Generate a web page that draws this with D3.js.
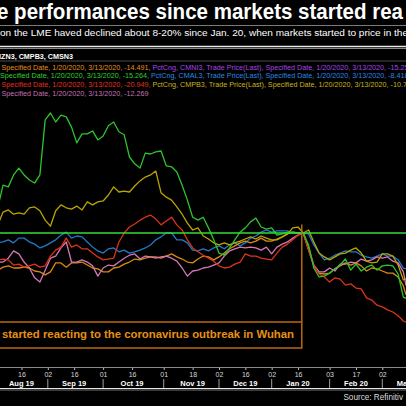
<!DOCTYPE html>
<html><head><meta charset="utf-8">
<script src="https://cdn.jsdelivr.net/npm/d3@7/dist/d3.min.js"></script>
<style>html,body{margin:0;padding:0;background:#000;overflow:hidden}</style>
</head><body>
<script>
// ---- data (percent change vs 20 Jan 2020, sampled every 2nd LME trading day from 1 Aug 2019) ----
const tradeIdx = d3.range(0, 157, 2).concat([157]);
const seriesNames = ["Blue", "Orange", "Pink", "Yellow", "Red", "Green"];
const blueVals = [-2.3,-2.3,-2.1,-1.6,-2.3,-1.2,-1.2,-2.1,-2.6,-3.5,-3.0,-2.3,-1.6,-0.5,0.2,-1.2,-0.7,-0.9,-2.1,-3.3,-4.2,-4.7,-3.7,-3.5,-4.4,-4.0,-4.7,-4.4,-4.0,-3.5,-2.8,-1.6,-0.9,0,0,-1.6,-1.6,-2.3,-4.0,-4.2,-3.7,-4.2,-3.5,-3.0,-3.7,-2.8,-2.3,-3.0,-2.3,-1.2,-0.7,0.2,0.7,0.2,0.5,0.5,0.5,0,0,0,-0.2,-2.8,-4.7,-6.3,-5.9,-5.2,-4.7,-4.2,-4.4,-4.4,-5.2,-5.6,-5.9,-5.4,-4.9,-5.4,-5.4,-6.3,-8.2,-8.4];
const orangeVals = [-8.7,-8.7,-8.0,-7.7,-8.2,-8.2,-8.0,-8.2,-8.9,-9.1,-9.8,-9.1,-7.0,-7.0,-8.0,-7.0,-7.0,-6.8,-7.5,-8.2,-8.4,-9.1,-9.1,-8.2,-8.0,-7.3,-6.8,-6.1,-6.3,-5.9,-5.6,-5.6,-5.9,-5.4,-4.9,-5.6,-6.1,-6.8,-7.0,-6.1,-5.4,-5.6,-6.3,-5.6,-4.7,-3.7,-3.0,-2.3,-1.9,-2.3,-1.9,-1.2,-1.9,-1.9,-1.4,-0.9,-0.2,0.2,0,0,-4.0,-7.7,-9.4,-9.6,-9.4,-8.4,-7.7,-7.0,-7.5,-7.0,-7.7,-8.9,-8.2,-8.4,-8.9,-9.4,-9.4,-10.3,-12.4,-14.5];
const pinkVals = [-6.8,-6.8,-6.8,-5.9,-4.2,-4.9,-6.8,-8.2,-10.5,-11.5,-8.7,-5.9,-5.4,-3.5,-2.1,-6.8,-6.8,-6.3,-6.8,-7.7,-10.1,-8.2,-7.5,-7.7,-6.8,-5.9,-5.2,-4.9,-6.1,-5.4,-5.6,-5.9,-5.6,-5.4,-5.9,-6.6,-8.2,-10.1,-8.9,-8.7,-8.2,-8.0,-7.5,-7.0,-5.4,-4.2,-3.7,-3.3,-3.5,-3.3,-3.5,-4.0,-3.3,-4.9,-3.3,-2.6,-2.1,-1.2,-0.5,0,-3.5,-7.5,-9.1,-9.1,-8.2,-8.9,-7.3,-7.3,-6.8,-7.0,-6.1,-6.6,-6.3,-5.6,-5.9,-5.6,-6.6,-7.0,-9.1,-12.3];
const yellowVals = [1.9,1.9,4.9,5.4,4.4,4.7,4.4,5.9,6.1,5.2,3.0,1.6,5.2,6.6,5.9,5.6,6.3,5.4,7.3,6.6,7.3,7.5,8.9,10.8,9.6,9.8,9.6,11.0,12.2,13.1,13.6,14.5,9.4,8.4,7.7,6.1,4.4,2.3,0.7,1.2,-0.7,-1.4,-2.3,-2.8,-2.3,-2.8,-2.3,-1.9,-1.4,-0.9,-1.4,-0.7,-1.2,-1.6,-1.6,-0.9,-0.2,1.2,1.4,0,0.7,-2.1,-4.7,-5.6,-6.3,-5.6,-4.9,-4.7,-4.0,-3.5,-4.7,-6.6,-7.0,-6.8,-4.9,-4.9,-5.4,-7.5,-11.0,-10.7];
const redVals = [-6.8,-6.3,-6.1,-6.3,-7.5,-7.3,-8.0,-7.7,-7.3,-8.0,-7.7,-5.4,-4.0,-3.3,-1.2,-3.3,-2.8,-3.7,-3.7,-4.7,-5.6,-6.3,-6.1,-5.9,-2.1,0,1.4,2.1,3.0,3.7,4.2,3.3,1.9,2.8,3.7,1.9,0.7,-1.6,-3.5,-4.4,-5.2,-5.9,-6.6,-7.7,-8.2,-8.0,-7.3,-6.8,-4.9,-5.4,-5.4,-5.9,-6.1,-6.3,-4.7,-3.3,-2.6,-1.6,-0.5,0,-4.0,-7.5,-9.6,-10.3,-11.5,-10.5,-10.8,-12.2,-11.9,-12.9,-13.1,-15.2,-15.7,-16.9,-17.3,-18.0,-18.5,-19.4,-20.6,-20.9];
const greenVals = [5.9,5.9,11.2,10.8,13.6,15.2,13.6,12.4,11.7,13.6,26.5,28.1,26.0,27.6,27.2,24.8,21.1,23.2,23.2,23.9,21.8,22.7,25.1,26.0,23.7,23.0,17.8,16.2,15.2,18.7,18.5,19.0,19.2,15.7,15.5,14.3,11.2,7.7,3.7,3.0,3.7,1.2,-1.6,-4.7,-5.2,-3.5,-1.6,0.2,1.2,2.6,3.5,1.4,0.9,1.2,-0.5,-0.2,0.2,0.2,0,0,-2.8,-8.2,-10.3,-10.1,-9.4,-8.4,-7.5,-6.1,-8.7,-7.3,-8.9,-8.0,-7.5,-8.7,-7.7,-7.5,-7.7,-9.6,-15.0,-15.3];

// axis ticks (trading-day index -> label)
const dayTickIdx = [11,21,31,42,53,65,76,86,96,106,116,128,138,148];
const dayTickLabels = ["16","02","16","01","16","01","18","02","16","02","16","03","17","02"];
const monthStartIdx = [21,42,65,86,106,128,148];
const monthIdx = [11,31,53,76,96,116,138,158];
const monthLabels = ["Aug 19","Sep 19","Oct 19","Nov 19","Dec 19","Jan 20","Feb 20","Mar 20"];
const eventIdx = 118; // 20 Jan 2020

const titleText = "e performances since markets started rea";
const subtitleText = "on the LME haved declined about 8-20% since Jan. 20, when markets started to price in the";
const ricText = "CMZN3, CMPB3, CMSN3";
const legendLines = [
  [["Specified Date, 1/20/2020, 3/13/2020, -14.491, ","#e0901e"],["PctCng, CMNI3, Trade Price(Last), Specified Date, 1/20/2020, 3/13/2020, -15.25","#a546e6"]],
  [["Specified Date, 1/20/2020, 3/13/2020, -15.264, ","#2fd02f"],["PctCng, CMAL3, Trade Price(Last), Specified Date, 1/20/2020, 3/13/2020, -8.418","#2a8ae0"]],
  [["Specified Date, 1/20/2020, 3/13/2020, -20.949, ","#e4301e"],["PctCng, CMPB3, Trade Price(Last), Specified Date, 1/20/2020, 3/13/2020, -10.73","#c8b41e"]],
  [["Specified Date, 1/20/2020, 3/13/2020, -12.269","#c474b4"]]
];
const annotationText = "started reacting to the coronavirus outbreak in Wuhan";
const sourceText = "Source: Refinitiv";

// ---- drawing ----
const W = 406, H = 406;
const svg = d3.select("body").append("svg").attr("width", W).attr("height", H)
  .style("background", "#000").style("display","block");

const x = d3.scaleLinear().domain([0, 157]).range([-7.5, 406]);
const y = d3.scaleLinear().domain([-30, 40]).range([361.1, 62.2]);

const font = "'Liberation Sans', Arial, sans-serif";

// title
svg.append("text").attr("x", -3).attr("y", 19).attr("font-family", font)
  .attr("font-weight", "bold").attr("font-size", 22).attr("fill", "#fff")
  .attr("textLength", 406).attr("lengthAdjust", "spacingAndGlyphs").text(titleText);
svg.append("line").attr("x1",0).attr("x2",W).attr("y1",25.5).attr("y2",25.5).attr("stroke","#7a7a7a").attr("stroke-width",1);
svg.append("text").attr("x", 0).attr("y", 36).attr("font-family", font)
  .attr("font-size", 9.6).attr("fill", "#fff")
  .attr("textLength", 408).attr("lengthAdjust", "spacingAndGlyphs").text(subtitleText);
svg.append("line").attr("x1",0).attr("x2",W).attr("y1",46.5).attr("y2",46.5).attr("stroke","#e8e8e8").attr("stroke-width",1.5);
svg.append("line").attr("x1",0).attr("x2",W).attr("y1",48.5).attr("y2",48.5).attr("stroke","#888").attr("stroke-width",1);

svg.append("text").attr("x", 73).attr("y", 58.5).attr("text-anchor","end").attr("font-family", font)
  .attr("font-weight","bold").attr("font-size", 7.2).attr("fill", "#fff").text(ricText);
svg.append("line").attr("x1",0).attr("x2",W).attr("y1",61).attr("y2",61).attr("stroke","#4a4a4a").attr("stroke-width",1);

// legend lines
const legY = [69.5, 78, 86.5, 95.5];
const legX = [1.5, 0, 1.5, 1.5];
const legTexts = legendLines.map((segs, i) => {
  const t = svg.append("text").attr("x", legX[i]).attr("y", legY[i])
    .attr("font-family", font).attr("font-size", 7.2);
  segs.forEach(s => t.append("tspan").attr("fill", s[1]).text(s[0]));
  return t;
});
const len4 = legTexts[3].node().getComputedTextLength();
const legFactor = 147 / len4;
legTexts.forEach(t => {
  const l = t.node().getComputedTextLength();
  t.attr("textLength", l * legFactor).attr("lengthAdjust", "spacingAndGlyphs");
});

// series
const series = [
  {name: seriesNames[0], vals: blueVals, color: "#2079c9"},
  {name: seriesNames[1], vals: orangeVals, color: "#d98a14"},
  {name: seriesNames[2], vals: pinkVals, color: "#d676b8"},
  {name: seriesNames[3], vals: yellowVals, color: "#bba500"},
  {name: seriesNames[4], vals: redVals, color: "#da3418"},
  {name: seriesNames[5], vals: greenVals, color: "#2cc42c"}
];
const line = d3.line().x((d, i) => x(tradeIdx[i])).y(d => y(d));
svg.append("g").selectAll("path").data(series).join("path")
  .attr("d", s => line(s.vals)).attr("fill", "none")
  .attr("stroke", s => s.color).attr("stroke-width", 1.3).attr("stroke-linejoin","round");

// reference line at 0% (20 Jan level)
svg.append("line").attr("x1", 0).attr("x2", W).attr("y1", y(0)).attr("y2", y(0))
  .attr("stroke", "#35dc35").attr("stroke-width", 1.4);

// annotation
const ex = x(eventIdx) - 1.5;
const annoColor = "#b9690f";
svg.append("line").attr("x1", ex).attr("x2", ex).attr("y1", y(2)).attr("y2", 322)
  .attr("stroke", annoColor).attr("stroke-width", 1.5);
svg.append("rect").attr("x", -5).attr("y", 322).attr("width", ex + 5).attr("height", 26)
  .attr("fill", "none").attr("stroke", annoColor).attr("stroke-width", 1.5);
svg.append("text").attr("x", 2).attr("y", 338).attr("font-family", font)
  .attr("font-weight", "bold").attr("font-size", 11.5).attr("fill", "#e8900f")
  .attr("textLength", 292).attr("lengthAdjust", "spacingAndGlyphs").text(annotationText);

// x axis
const axis = d3.axisBottom(x).tickValues(dayTickIdx)
  .tickFormat((d, i) => dayTickLabels[i]).tickSize(2.5).tickPadding(2.5);
const gx = svg.append("g").attr("transform", "translate(0,367.5)").call(axis);
gx.select(".domain").remove();
gx.selectAll(".tick line").attr("stroke", "#bbb");
gx.selectAll(".tick text").attr("fill", "#d8d8d8").attr("font-family", font).attr("font-size", 7);
svg.append("line").attr("x1",0).attr("x2",W).attr("y1",367.5).attr("y2",367.5).attr("stroke","#8a8a8a").attr("stroke-width",1);
svg.append("g").selectAll("line").data(monthStartIdx).join("line")
  .attr("x1", d => x(d)).attr("x2", d => x(d)).attr("y1", 379).attr("y2", 388)
  .attr("stroke", "#a0a0a0").attr("stroke-width", 1);
svg.append("g").selectAll("text").data(monthIdx).join("text")
  .attr("x", d => x(d)).attr("y", 385.5).attr("text-anchor", "middle")
  .attr("font-family", font).attr("font-weight", "bold").attr("font-size", 7.5)
  .attr("fill", "#fff").text((d, i) => monthLabels[i]);
svg.append("line").attr("x1",0).attr("x2",W).attr("y1",388.5).attr("y2",388.5).attr("stroke","#e8e8e8").attr("stroke-width",1.2);
svg.append("line").attr("x1",0).attr("x2",W).attr("y1",390).attr("y2",390).attr("stroke","#777").attr("stroke-width",1);

svg.append("text").attr("x", 403).attr("y", 400).attr("text-anchor", "end")
  .attr("font-family", font).attr("font-size", 8.2).attr("fill", "#dcdcdc").text(sourceText);
</script>
</body></html>
